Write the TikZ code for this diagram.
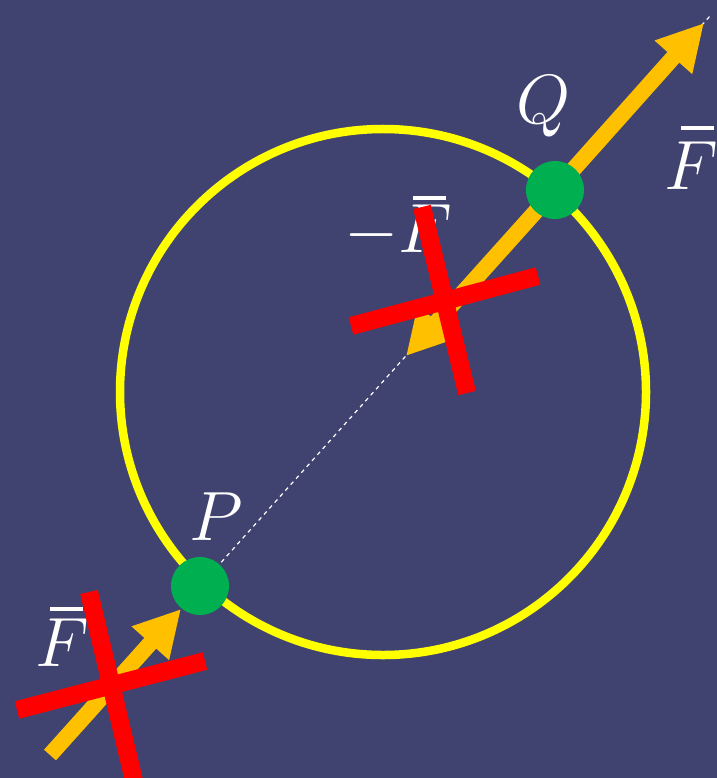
\RequirePackage{fix-cm}
\documentclass[tikz,border=0pt]{standalone}
\usetikzlibrary{arrows.meta}
\definecolor{bg}{RGB}{64,67,112}
\definecolor{ring}{RGB}{255,255,0}
\definecolor{force}{RGB}{255,192,0}
\definecolor{pt}{RGB}{0,176,80}
\definecolor{cross}{RGB}{255,0,0}
\tikzset{
  forcearrow/.style={draw=force, line width=16bp, -{Triangle[length=46bp,width=47bp]}},
  dot/.style={circle, fill=pt, minimum size=58bp, inner sep=0pt},
  crossbar/.style={draw=cross, line width=18bp},
  lbl/.style={text=white, font=\fontsize{70}{80}\selectfont, inner sep=0pt},
  fbar/.style={draw=white, line width=4.5bp},
}
\begin{document}
\begin{tikzpicture}[x=1bp,y=-1bp]
\fill[bg] (0,0) rectangle (717,778);
\useasboundingbox (0,0) rectangle (717,778);
% ring
\node[draw=ring, line width=8.5bp, circle, minimum size=526bp, inner sep=0pt] (ring) at (383,392) {};
% points
\coordinate (pP) at (200,586);
\coordinate (pQ) at (555,190);
\coordinate (tipF) at (704,23);
\coordinate (tipM) at (406,356);
\coordinate (end) at (710,16);
\coordinate (tail) at (50,755);
\coordinate (tipB) at (181,609);
% dashed line of action
\draw[white, line width=1.2bp, dash pattern=on 4bp off 4bp] (pP) -- (end);
% forces
\draw[forcearrow] (pQ) -- (tipF);
\draw[forcearrow] (pQ) -- (tipM);
\draw[forcearrow] (tail) -- (tipB);
% points
\node[dot] (P) at (pP) {};
\node[dot] (Q) at (pQ) {};
% labels
\node[lbl] (lP) at (216,517) {$P$};
\node[lbl] (lQ) at (544,106) {$Q$};
\node[lbl] (lF1) at (691,166) {$F$};
\node[lbl] (lF2) at (62,643) {$F$};
\node[lbl] (lF3) at (398,232) {$-F$};
% bars over F
\coordinate (bar1a) at (681,128); \coordinate (bar1b) at (714,128);
\coordinate (bar2a) at (50,609);  \coordinate (bar2b) at (83,609);
\coordinate (bar3a) at (413,198); \coordinate (bar3b) at (446,198);
\draw[fbar] (bar1a) -- (bar1b);
\draw[fbar] (bar2a) -- (bar2b);
\draw[fbar] (bar3a) -- (bar3b);
% red crosses
\coordinate (a1) at (422,207); \coordinate (a2) at (467,393);
\coordinate (b1) at (351,326); \coordinate (b2) at (538,276);
\draw[crossbar] (a1) -- (a2);
\draw[crossbar] (b1) -- (b2);
\coordinate (c1) at (89,592); \coordinate (c2) at (135,785);
\coordinate (d1) at (17,710); \coordinate (d2) at (205,661);
\draw[crossbar] (c1) -- (c2);
\draw[crossbar] (d1) -- (d2);
\end{tikzpicture}
\end{document}
